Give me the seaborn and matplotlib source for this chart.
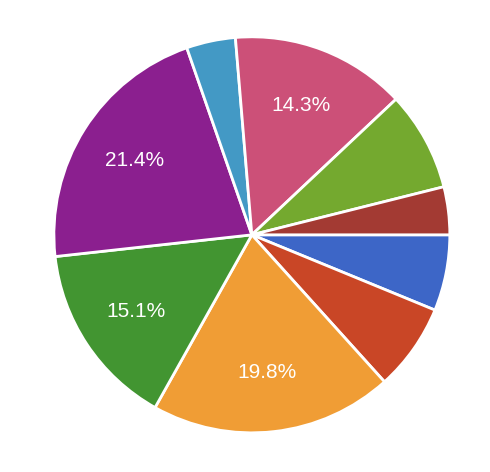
import matplotlib
matplotlib.use("Agg")
import matplotlib.pyplot as plt
import seaborn as sns

# slices clockwise from 3 o'clock
shares = [6.2, 7.1, 19.8, 15.1, 21.4, 4.0, 14.3, 8.1, 3.9]
colors = ["#3d66c7", "#c94626", "#f09d35", "#429531", "#8b1f8f",
          "#4399c5", "#cc5078", "#74a92f", "#a33a33"]

sns.set_theme(style="white")
plt.rcParams['font.family'] = ['Liberation Sans', 'DejaVu Sans']

fig = plt.figure(figsize=(4.9, 4.72), dpi=100)
ax = fig.add_axes([0.11, 0.083, 0.808, 0.839])

total = sum(shares)
def fmt(p):
    return f"{p:.1f}%" if p >= 10 else ""

wedges, texts, autotexts = ax.pie(
    shares, colors=colors, startangle=0, counterclock=False,
    autopct=fmt, pctdistance=0.7,
    wedgeprops=dict(edgecolor="white", linewidth=2),
    textprops=dict(color="white", fontsize=15))
ax.set_aspect("auto")
ax.set_xlim(-1, 1)
ax.set_ylim(-1, 1)
ax.axis("off")

fig.savefig("out.png", dpi=100)
